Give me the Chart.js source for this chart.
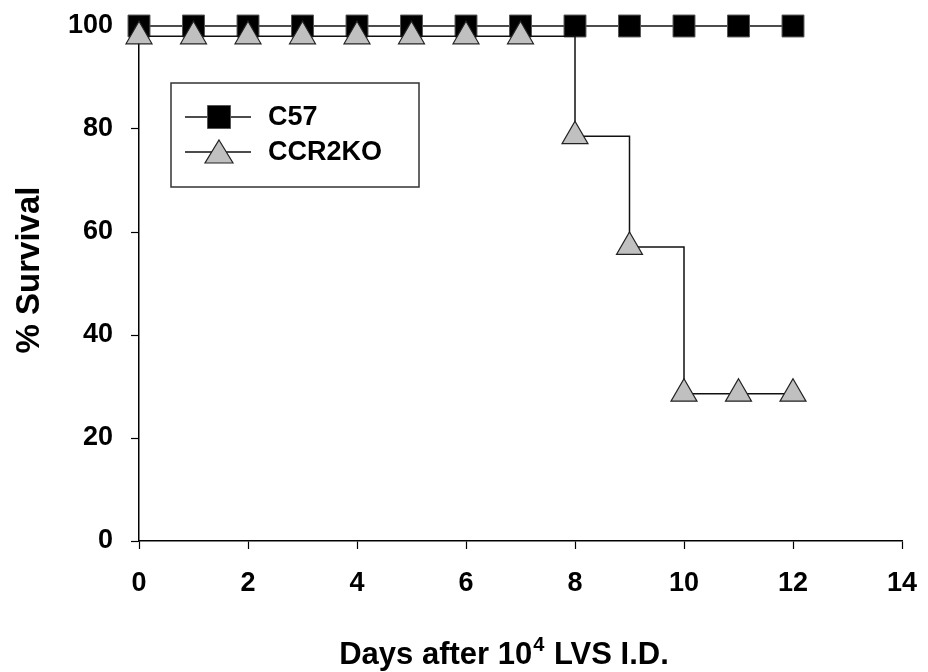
<!DOCTYPE html>
<html lang="en">
<head>
    <meta charset="UTF-8">
    <title>% Survival</title>
    <style>
        body {
            margin: 0;
            background: #ffffff;
        }
        #chart-container {
            width: 928px;
            height: 672px;
        }
    </style>
</head>
<body>
    <div id="chart-container">
        <canvas id="survivalChart" width="928" height="672"></canvas>
    </div>
    <script src="https://cdn.jsdelivr.net/npm/chart.js@4.4.1/dist/chart.umd.min.js"></script>
    <script>
        // values
        const days = [0, 1, 2, 3, 4, 5, 6, 7, 8, 9, 10, 11, 12];
        const c57 = [100, 100, 100, 100, 100, 100, 100, 100, 100, 100, 100, 100, 100];
        const ccr2ko = [98, 98, 98, 98, 98, 98, 98, 98, 78.6, 57.1, 28.6, 28.6, 28.6];
        const seriesNames = ['C57', 'CCR2KO'];
        const xTitle = ['Days after 10', '4', ' LVS I.D.'];  // middle part is the superscript
        const yTitle = '% Survival';

        const FONT = '"Liberation Sans", Arial, sans-serif';

        function toPoints(ys) {
            return days.map((d, i) => ({ x: d, y: ys[i] }));
        }

        // legend drawn inside the plot, framed box like the original
        const boxLegend = {
            id: 'boxLegend',
            afterDraw(chart) {
                const ctx = chart.ctx;
                ctx.save();
                ctx.strokeStyle = '#333';
                ctx.lineWidth = 1.5;
                ctx.strokeRect(171, 83, 248, 104);

                const rows = [117, 152];
                chart.data.datasets.forEach((ds, i) => {
                    const y = rows[i];
                    ctx.strokeStyle = '#111';
                    ctx.lineWidth = 1.5;
                    ctx.beginPath();
                    ctx.moveTo(185, y);
                    ctx.lineTo(251, y);
                    ctx.stroke();

                    ctx.fillStyle = ds.pointBackgroundColor;
                    ctx.strokeStyle = ds.pointBorderColor;
                    ctx.lineWidth = ds.pointBorderWidth;
                    ctx.beginPath();
                    if (ds.pointStyle === 'rect') {
                        ctx.rect(207.5, y - 11.5, 23, 23);
                    } else {
                        ctx.moveTo(219, y - 12);
                        ctx.lineTo(233, y + 11);
                        ctx.lineTo(205, y + 11);
                        ctx.closePath();
                    }
                    ctx.fill();
                    ctx.stroke();

                    ctx.fillStyle = '#000';
                    ctx.font = 'bold 27px ' + FONT;
                    ctx.textBaseline = 'middle';
                    ctx.fillText(ds.label, 268, y + 1);
                });
                ctx.restore();
            }
        };

        // axis titles (x title needs a real superscript)
        const axisTitles = {
            id: 'axisTitles',
            afterDraw(chart) {
                const ctx = chart.ctx;
                ctx.save();
                ctx.fillStyle = '#000';
                ctx.textBaseline = 'alphabetic';

                const big = 'bold 31px ' + FONT;
                const sup = 'bold 20px ' + FONT;
                ctx.font = big;
                const w0 = ctx.measureText(xTitle[0]).width;
                const w2 = ctx.measureText(xTitle[2]).width;
                ctx.font = sup;
                const w1 = ctx.measureText(xTitle[1]).width + 2;
                let x = 504 - (w0 + w1 + w2) / 2;
                const base = 664;
                ctx.font = big;
                ctx.fillText(xTitle[0], x, base);
                x += w0 + 1;
                ctx.font = sup;
                ctx.fillText(xTitle[1], x, base - 13);
                x += w1 - 1;
                ctx.font = big;
                ctx.fillText(xTitle[2], x, base);

                ctx.translate(30, 270);
                ctx.rotate(-Math.PI / 2);
                ctx.font = 'bold 33px ' + FONT;
                ctx.textAlign = 'center';
                ctx.textBaseline = 'middle';
                ctx.fillText(yTitle, 0, 0);
                ctx.restore();
            }
        };

        new Chart(document.getElementById('survivalChart'), {
            type: 'line',
            data: {
                datasets: [
                    {
                        label: seriesNames[0],
                        data: toPoints(c57),
                        borderColor: '#111',
                        borderWidth: 1.5,
                        pointStyle: 'rect',
                        pointRadius: 15.5,
                        pointBackgroundColor: '#000',
                        pointBorderColor: '#555',
                        pointBorderWidth: 1,
                        clip: false,
                        order: 1
                    },
                    {
                        label: seriesNames[1],
                        data: toPoints(ccr2ko),
                        stepped: 'before',
                        borderColor: '#111',
                        borderWidth: 1.5,
                        pointStyle: 'triangle',
                        pointRadius: 15,
                        pointBackgroundColor: '#c0c0c0',
                        pointBorderColor: '#222',
                        pointBorderWidth: 1.2,
                        clip: false,
                        order: 0
                    }
                ]
            },
            options: {
                responsive: false,
                animation: false,
                layout: {
                    padding: { top: 26, right: 26, left: 0, bottom: 0 }
                },
                plugins: {
                    legend: { display: false },
                    tooltip: { enabled: false }
                },
                scales: {
                    x: {
                        type: 'linear',
                        position: 'bottom',
                        min: 0,
                        max: 14,
                        afterFit: (scale) => {
                            scale.height = 131;
                            scale.paddingLeft = 0;
                            scale.paddingRight = 0;
                        },
                        ticks: {
                            stepSize: 2,
                            padding: 18,
                            color: '#000',
                            font: { family: FONT, size: 27, weight: 'bold' }
                        },
                        grid: {
                            drawOnChartArea: false,
                            tickLength: 8,
                            tickColor: '#000',
                            tickWidth: 1.2
                        },
                        border: { display: true, color: '#000', width: 1.5 }
                    },
                    y: {
                        min: 0,
                        max: 100,
                        afterFit: (scale) => {
                            scale.width = 139;
                            scale.paddingTop = 0;
                            scale.paddingBottom = 0;
                        },
                        ticks: {
                            stepSize: 20,
                            padding: 18,
                            color: '#000',
                            font: { family: FONT, size: 27, weight: 'bold' }
                        },
                        grid: {
                            drawOnChartArea: false,
                            tickLength: 8,
                            tickColor: '#000',
                            tickWidth: 1.2
                        },
                        border: { display: true, color: '#000', width: 1.5 }
                    }
                }
            },
            plugins: [boxLegend, axisTitles]
        });
    </script>
</body>
</html>
